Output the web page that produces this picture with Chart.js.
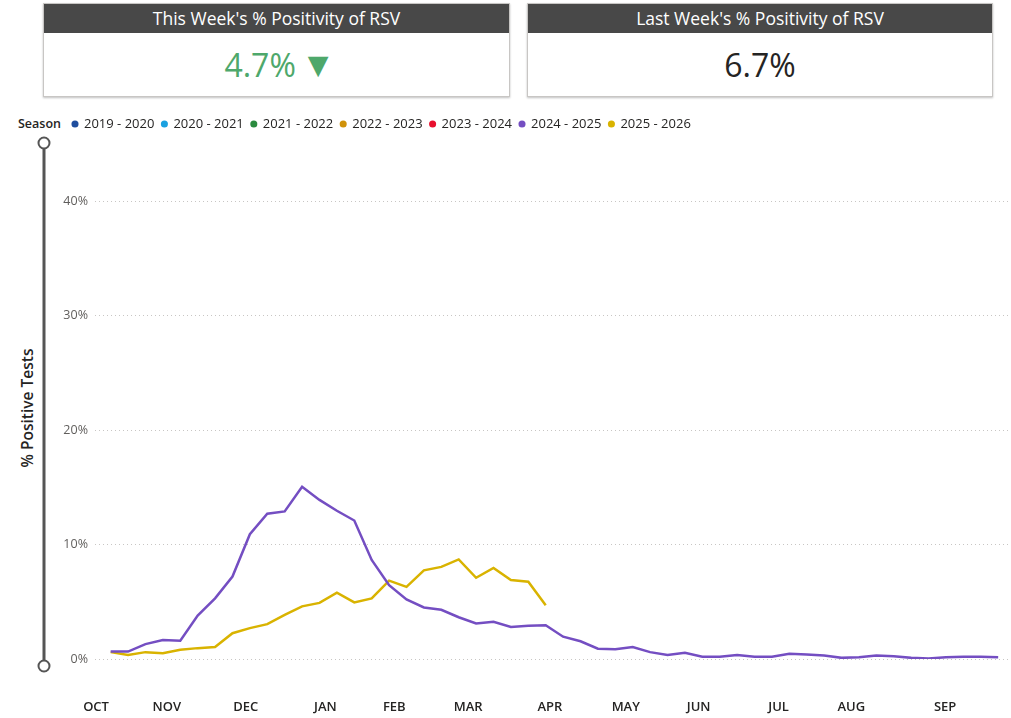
<!DOCTYPE html>
<html><head><meta charset="utf-8">
<script src="https://cdn.jsdelivr.net/npm/chart.js@4.4.1/dist/chart.umd.min.js"></script>
<style>
body{margin:0;width:1011px;height:718px;background:#fff;position:relative;overflow:hidden;font-family:'Segoe UI','Open Sans',sans-serif;}
.card{position:absolute;top:3px;height:94px;border:1px solid #c8c6c4;box-shadow:0 1px 2px rgba(0,0,0,0.25);background:#fff;box-sizing:border-box}
.card .hd{height:29px;background:#484848;color:#fff;font-size:17.5px;text-align:center;line-height:28px}
.card .val{position:absolute;left:0;right:0;top:29px;bottom:0;display:flex;align-items:center;justify-content:center;font-size:32px;color:#252423}
#c1{left:43px;width:467px}
#c2{left:527px;width:466px}
#c1 .val{color:#4ea86b}
#c1 .tri{font-size:27px;margin-left:12px;font-family:'DejaVu Sans',sans-serif}
#season{position:absolute;left:18px;top:116px;font-size:12.5px;line-height:16px;font-weight:600;color:#252423}
#ytitle{position:absolute;left:27px;top:408px;transform:translate(-50%,-50%) rotate(-90deg);font-size:15.5px;font-weight:600;color:#252423;white-space:nowrap}
#wrap{position:absolute;left:0;top:100px;width:1011px;height:618px}
</style></head>
<body>
<div class="card" id="c1"><div class="hd">This Week's % Positivity of RSV</div><div class="val"><span>4.7%</span><span class="tri">▼</span></div></div>
<div class="card" id="c2"><div class="hd">Last Week's % Positivity of RSV</div><div class="val"><span>6.7%</span></div></div>
<div id="season">Season</div>
<div id="ytitle">% Positive Tests</div>
<div id="wrap"><canvas id="chart"></canvas></div>
<script>
// Seasons shown in the legend
const seasons = ['2019 - 2020','2020 - 2021','2021 - 2022','2022 - 2023','2023 - 2024','2024 - 2025','2025 - 2026'];
const seasonColors = ['#1f4e9e','#1aa1e0','#2a8a3e','#d0920a','#e8102e','#744ec2','#d9b300'];

// Weekly % positivity (week 0 = first week of October)
const season2024_2025 = [0.65,0.65,1.3,1.65,1.6,3.8,5.3,7.2,10.9,12.7,12.9,15.05,13.9,12.95,12.1,8.65,
  6.45,5.2,4.5,4.3,3.65,3.1,3.25,2.8,2.9,2.95,1.95,1.55,0.9,0.85,1.05,0.6,0.35,0.55,0.2,0.2,0.35,0.2,0.2,
  0.45,0.4,0.3,0.1,0.15,0.3,0.25,0.1,0.05,0.15,0.2,0.2,0.15];
const season2025_2026 = [0.6,0.35,0.6,0.5,0.8,0.95,1.05,2.25,2.7,3.05,3.85,4.6,4.9,5.8,4.95,5.3,
  6.85,6.3,7.75,8.05,8.7,7.1,7.95,6.9,6.75,4.7];

// Axis tick labels
const monthLabels = ['OCT','NOV','DEC','JAN','FEB','MAR','APR','MAY','JUN','JUL','AUG','SEP'];
const monthWeeks = [-0.84,3.23,7.76,12.34,16.3,20.54,25.24,29.6,33.79,38.38,42.56,47.95];
const yTicks = [0,10,20,30,40];

const seriesBySeason = {'2024 - 2025': season2024_2025, '2025 - 2026': season2025_2026};

Chart.defaults.font.family = "'Segoe UI','Open Sans',sans-serif";

const datasets = seasons.map((s,i)=>({
  label: s,
  data: (seriesBySeason[s]||[]).map((v,k)=>({x:k,y:v})),
  borderColor: seasonColors[i],
  backgroundColor: seasonColors[i],
  borderWidth: 2.5,
  pointRadius: 0,
  pointHoverRadius: 0,
  pointStyle: 'circle',
  tension: 0,
  fill: false
}));

const decor = {
  id:'decor',
  afterLayout(chart){
    chart.legend.top = 10;
    chart.legend.left = 65;
  },
  afterDraw(chart){
    const ctx = chart.ctx; const x = 44;
    const y1 = chart.chartArea.top - 1, y2 = chart.chartArea.bottom + 7;
    ctx.save();
    ctx.strokeStyle = '#555'; ctx.lineWidth = 3;
    ctx.beginPath(); ctx.moveTo(x,y1); ctx.lineTo(x,y2); ctx.stroke();
    ctx.lineWidth = 2; ctx.fillStyle = '#fff';
    [y1,y2].forEach(y=>{ctx.beginPath(); ctx.arc(x,y,5.5,0,Math.PI*2); ctx.fill(); ctx.stroke();});
    ctx.restore();
  }
};

new Chart(document.getElementById('chart'), {
  type:'line',
  data:{datasets},
  plugins:[decor],
  options:{
    responsive:true, maintainAspectRatio:false, animation:false,
    layout:{padding:{top:13.5,right:1,left:0,bottom:0}},
    plugins:{
      tooltip:{enabled:false},
      legend:{
        position:'top', align:'start',
        labels:{
          usePointStyle:true, boxWidth:5, boxHeight:5, padding:7.5,
          color:'#252423', font:{size:13},
          generateLabels(chart){
            return Chart.defaults.plugins.legend.labels.generateLabels(chart).map(l=>Object.assign(l,{lineWidth:0}));
          }
        }
      }
    },
    scales:{
      x:{
        type:'linear', min:-0.9, max:51.68,
        border:{display:false},
        grid:{display:false, drawTicks:false},
        afterFit(scale){ scale.height = 59; },
        afterBuildTicks(scale){ scale.ticks = monthWeeks.map(v=>({value:v})); },
        ticks:{
          autoSkip:false, maxRotation:0, padding:40,
          color:'#252423', font:{size:13, weight:'600'},
          callback:(v,i)=>monthLabels[i]
        }
      },
      y:{
        min:0, max:45,
        border:{display:false, dash:[1,3]},
        grid:{color:'#c8c6c4', lineWidth:1, drawTicks:false},
        afterFit(scale){ scale.width = 95; },
        afterBuildTicks(scale){ scale.ticks = yTicks.map(v=>({value:v})); },
        ticks:{ padding:7, color:'#605e5c', font:{size:12.5}, callback:v=>v+'%' }
      }
    }
  }
});
</script>
</body></html>
